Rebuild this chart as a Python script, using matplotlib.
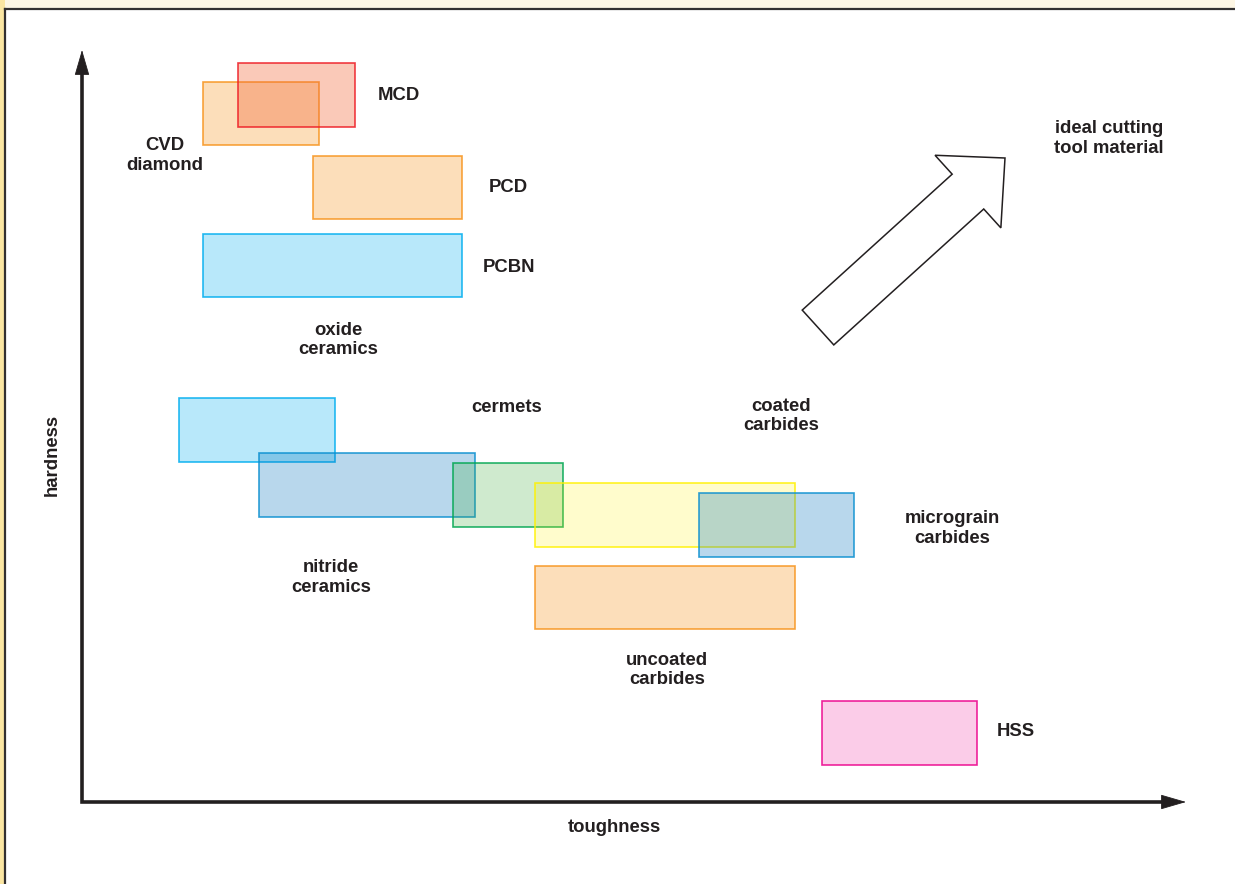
import matplotlib
matplotlib.use('Agg')
import matplotlib.pyplot as plt
from matplotlib.patches import Rectangle, FancyArrow

plt.rcParams['font.family'] = ['Liberation Sans', 'DejaVu Sans']

# Material ranges (arbitrary units): toughness span and hardness span
materials = ['CVD diamond', 'MCD', 'PCD', 'PCBN', 'oxide ceramics', 'nitride ceramics',
             'cermets', 'coated carbides', 'micrograin carbides', 'uncoated carbides', 'HSS']
tough_lo = [12.1, 15.6, 23.1, 12.1, 9.7, 17.7, 37.1, 45.3, 61.7, 45.3, 74.0]
tough_hi = [23.7, 27.3, 38.0, 38.0, 25.3, 39.3, 48.1, 71.3, 77.2, 71.3, 89.5]
hard_lo = [65.7, 67.5, 58.3, 50.5, 34.0, 28.5, 27.5, 25.5, 24.5, 17.3, 3.7]
hard_hi = [72.0, 73.9, 64.6, 56.8, 40.4, 34.9, 33.9, 31.9, 30.9, 23.6, 10.1]

edge_colors = ['#f7941d', '#ee1c25', '#f7941d', '#00aeef', '#00aeef', '#0a8fd0',
               '#00a651', '#fff200', '#0a8fd0', '#f7941d', '#ec008c']
face_colors = ['#f7941d', '#f26534', '#f7941d', '#00aeef', '#00aeef', '#0072bc',
               '#39a935', '#fff200', '#0072bc', '#f7941d', '#ec008c']
face_alpha = [0.3, 0.35, 0.3, 0.28, 0.28, 0.28, 0.24, 0.2, 0.28, 0.3, 0.2]

# label text, position, alignment
labels = ['MCD', 'CVD\ndiamond', 'PCD', 'PCBN', 'oxide\nceramics', 'cermets',
          'coated\ncarbides', 'nitride\nceramics', 'micrograin\ncarbides',
          'uncoated\ncarbides', 'HSS', 'ideal cutting\ntool material']
label_x = [29.6, 8.3, 40.7, 40.1, 25.6, 42.5, 69.9, 24.9, 87.0, 58.5, 91.5, 102.7]
label_y = [70.7, 64.65, 61.5, 53.5, 46.2, 39.4, 38.6, 22.45, 27.35, 13.2, 7.0, 66.35]
label_ha = ['left', 'center', 'left', 'left', 'center', 'center', 'center', 'center',
            'center', 'center', 'left', 'center']

txt = '#231f20'

fig = plt.figure(figsize=(12.35, 8.84), dpi=100, facecolor='#fdf6e4')
# page frame (behind the axes)
fig.add_artist(Rectangle((0, 0), 5 / 1235, 1, transform=fig.transFigure,
                         facecolor='#fbe6a2', edgecolor='none', zorder=-3))
fig.add_artist(Rectangle((5 / 1235, 0), 1 - 5 / 1235, 1 - 9 / 884, transform=fig.transFigure,
                         facecolor='white', edgecolor='none', zorder=-3))
fig.add_artist(plt.Line2D([5 / 1235, 5 / 1235], [0, 1 - 9 / 884], transform=fig.transFigure,
                          color='#333030', lw=1.6, zorder=-2))
fig.add_artist(plt.Line2D([5 / 1235, 1], [1 - 9 / 884, 1 - 9 / 884], transform=fig.transFigure,
                          color='#333030', lw=1.6, zorder=-2))

ax = fig.add_axes([0, 0, 1, 1])
ax.set_xlim(-8.2, 115.3)
ax.set_ylim(-8.2, 80.2)
ax.axis('off')

for i in range(len(materials)):
    x0, x1 = tough_lo[i], tough_hi[i]
    y0, y1 = hard_lo[i], hard_hi[i]
    ax.add_patch(Rectangle((x0, y0), x1 - x0, y1 - y0, facecolor=face_colors[i],
                           alpha=face_alpha[i], edgecolor='none', zorder=2 + i * 0.01))
    ax.add_patch(Rectangle((x0, y0), x1 - x0, y1 - y0, facecolor='none',
                           edgecolor=edge_colors[i], lw=1.2, alpha=0.85, zorder=2 + i * 0.01))

for t, x, y, ha in zip(labels, label_x, label_y, label_ha):
    ax.text(x, y, t, ha=ha, va='center', multialignment='center', fontsize=13.3,
            fontweight='bold', color=txt, linespacing=1.18, zorder=5)

# axis lines with arrow heads
y_tip, x_tip = 75.2, 110.4
ax.plot([0, 0, x_tip - 1.5], [y_tip - 1.5, 0, 0], color=txt, lw=2.6,
        solid_joinstyle='miter', solid_capstyle='butt', zorder=3)
head = dict(arrowstyle='-|>,head_length=1.65,head_width=0.48', color=txt, lw=0.6,
            shrinkA=0, shrinkB=0)
ax.annotate('', xy=(0, y_tip), xytext=(0, y_tip - 3), arrowprops=head, zorder=3)
ax.annotate('', xy=(x_tip, 0), xytext=(x_tip - 3, 0), arrowprops=head, zorder=3)
ax.text(53.2, -2.6, 'toughness', ha='center', va='center', fontsize=13.3,
        fontweight='bold', color=txt)
ax.text(-3.0, 34.7, 'hardness', ha='center', va='center', rotation=90, fontsize=13.3,
        fontweight='bold', color=txt)

# hollow "ideal" arrow
ax.add_patch(FancyArrow(73.6, 47.45, 18.7, 16.95, width=4.7, head_width=9.8,
                        head_length=5.0, length_includes_head=True,
                        facecolor='white', edgecolor=txt, lw=1.1, zorder=4))

fig.savefig('out.png', dpi=100, facecolor=fig.get_facecolor())
